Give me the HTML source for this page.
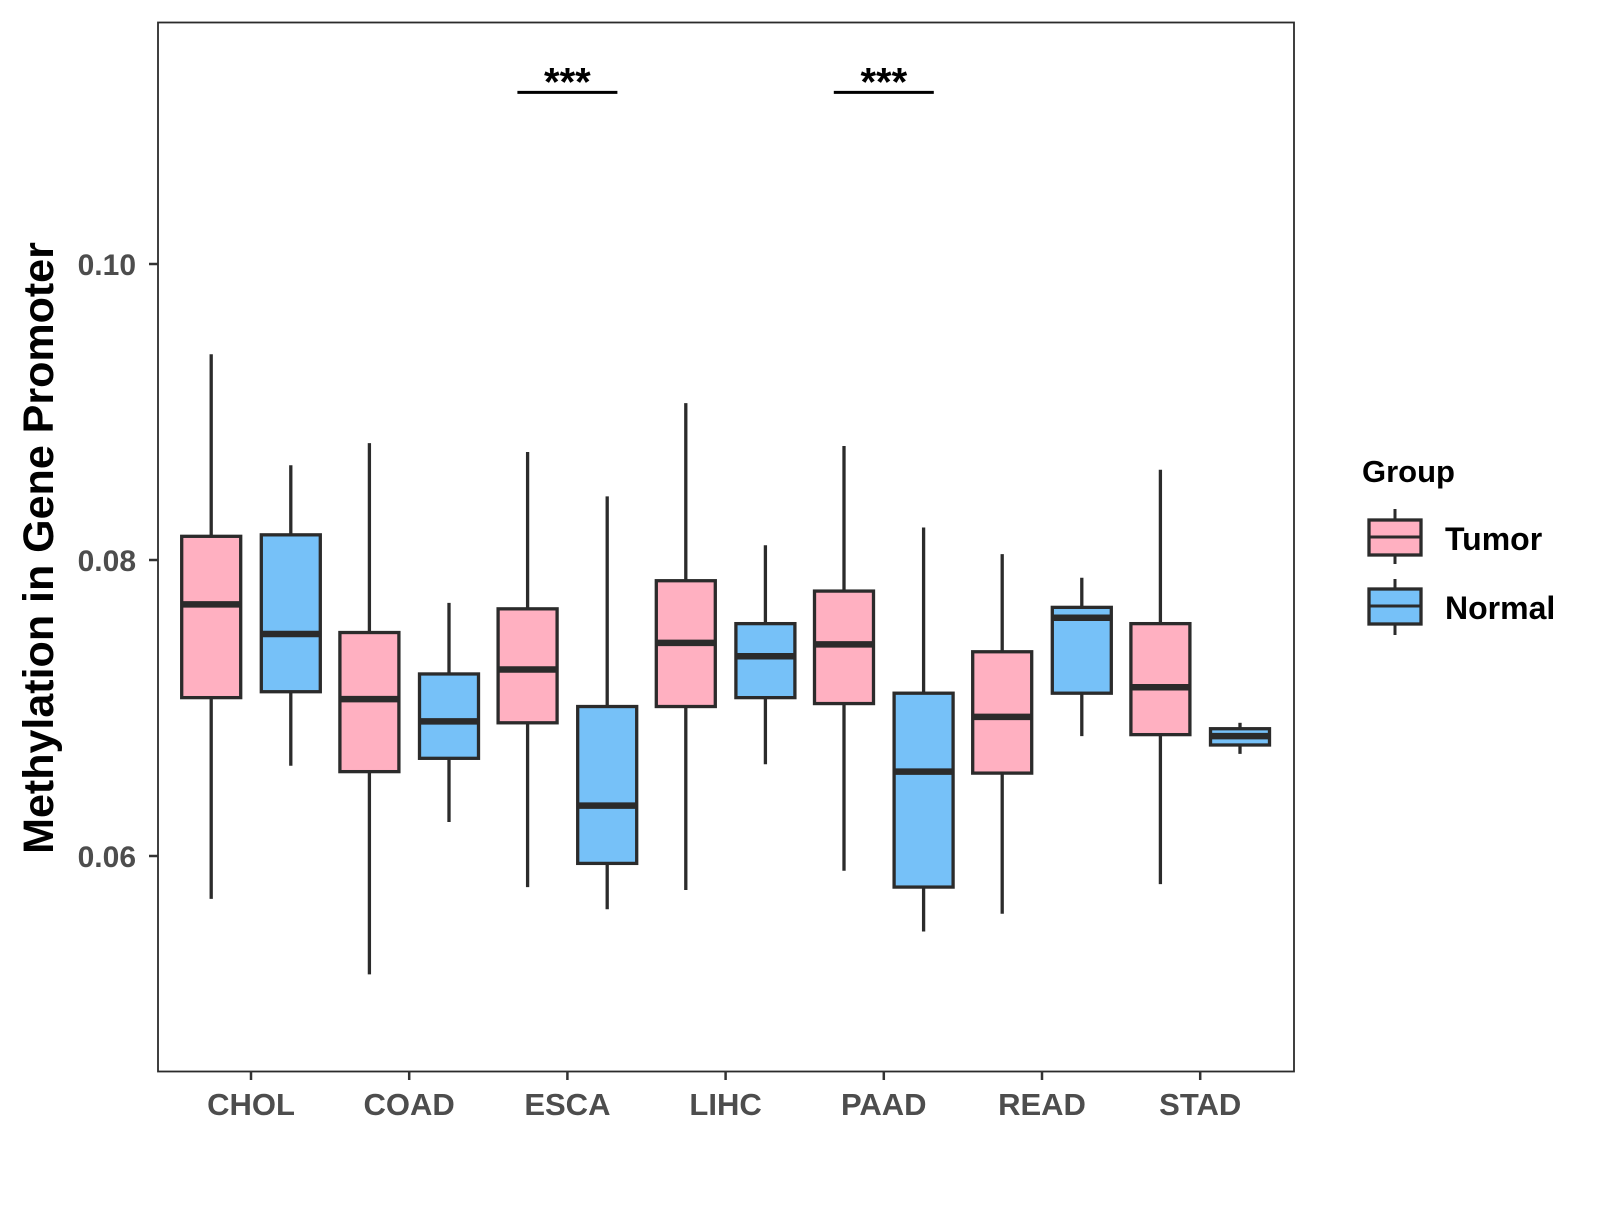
<!DOCTYPE html>
<html><head><meta charset="utf-8"><style>
body{margin:0;background:#fff}
svg text{font-family:"Liberation Sans",sans-serif;font-weight:bold}
</style></head><body>
<svg id="chart" width="1600" height="1200" xmlns="http://www.w3.org/2000/svg">
<rect x="158" y="22.5" width="1136" height="1049" fill="#fff" stroke="#2b2b2b" stroke-width="1.8"/>
<g id="axes"></g>
<g id="boxes"></g>
<text transform="translate(53,548) rotate(-90)" text-anchor="middle" font-size="43" fill="#000">Methylation in Gene Promoter</text>
<g>
<text x="1362" y="482" font-size="31" fill="#000">Group</text>
<line x1="1395" y1="509" x2="1395" y2="564" stroke="#2b2b2b" stroke-width="3"/>
<rect x="1369" y="520" width="52" height="35" fill="#FFB0C1" stroke="#2b2b2b" stroke-width="3.3"/>
<line x1="1369" y1="537" x2="1421" y2="537" stroke="#2b2b2b" stroke-width="3"/>
<text x="1445" y="550" font-size="32" fill="#000">Tumor</text>
<line x1="1395" y1="579" x2="1395" y2="635" stroke="#2b2b2b" stroke-width="3"/>
<rect x="1369" y="589" width="52" height="35" fill="#76C1F8" stroke="#2b2b2b" stroke-width="3.3"/>
<line x1="1369" y1="606" x2="1421" y2="606" stroke="#2b2b2b" stroke-width="3"/>
<text x="1445" y="619" font-size="32" fill="#000">Normal</text>
</g>
</svg>
<script>
const categories=["CHOL","COAD","ESCA","LIHC","PAAD","READ","STAD"];
const yTicks=[0.06,0.08,0.10];
const yTickLabels=["0.06","0.08","0.10"];
// [low, q1, median, q3, high]
const tumor=[[0.0571,0.0707,0.0770,0.0816,0.0939],[0.0520,0.0657,0.0706,0.0751,0.0879],[0.0579,0.0690,0.0726,0.0767,0.0873],[0.0577,0.0701,0.0744,0.0786,0.0906],[0.0590,0.0703,0.0743,0.0779,0.0877],[0.0561,0.0656,0.0694,0.0738,0.0804],[0.0581,0.0682,0.0714,0.0757,0.0861]];
const normal=[[0.0661,0.0711,0.0750,0.0817,0.0864],[0.0623,0.0666,0.0691,0.0723,0.0771],[0.0564,0.0595,0.0634,0.0701,0.0843],[0.0662,0.0707,0.0735,0.0757,0.0810],[0.0549,0.0579,0.0657,0.0710,0.0822],[0.0681,0.0710,0.0761,0.0768,0.0788],[0.0669,0.0675,0.0681,0.0686,0.0690]];
const sigCats=["ESCA","PAAD"];
const sigLabels=["***","***"];
const sigValue=0.1116;

const NS="http://www.w3.org/2000/svg";
const y=v=>560-(v-0.08)*14800;
const x=i=>251+i*158.2;
function mk(parent,tag,attrs){const e=document.createElementNS(NS,tag);for(const k in attrs)e.setAttribute(k,attrs[k]);parent.appendChild(e);return e;}
const axes=document.getElementById('axes'),boxes=document.getElementById('boxes');
yTicks.forEach((t,i)=>{
 const l=mk(axes,'line',{x1:149,x2:158,y1:y(t),y2:y(t),stroke:'#333','stroke-width':2.5});
 
 
 const tx=mk(axes,'text',{x:136,y:y(t)+11,'text-anchor':'end','font-size':30,fill:'#4d4d4d'});
 tx.textContent=yTickLabels[i];
 
 
});
categories.forEach((c,i)=>{
 const l=mk(axes,'line',{x1:x(i),x2:x(i),y1:1071,y2:1080,stroke:'#333','stroke-width':2.5});
 
 
 const tx=mk(axes,'text',{x:x(i),y:1115,'text-anchor':'middle','font-size':31,fill:'#4d4d4d'});
 tx.textContent=c;
 
 
});
function box(d,cx,fill,name){
 const g=mk(boxes,'g',{});
 
 
 const w=59;
 mk(g,'line',{x1:cx,x2:cx,y1:y(d[4]),y2:y(d[0]),stroke:'#2b2b2b','stroke-width':3.3});
 mk(g,'rect',{x:cx-w/2,y:y(d[3]),width:w,height:y(d[1])-y(d[3]),fill:fill,stroke:'#2b2b2b','stroke-width':3.3});
 mk(g,'line',{x1:cx-w/2,x2:cx+w/2,y1:y(d[2]),y2:y(d[2]),stroke:'#2b2b2b','stroke-width':6.5});
}
categories.forEach((c,i)=>{
 box(tumor[i],x(i)-39.8,'#FFB0C1','box-tumor-'+c.toLowerCase());
 box(normal[i],x(i)+39.8,'#76C1F8','box-normal-'+c.toLowerCase());
});
sigCats.forEach((c,j)=>{
 const i=categories.indexOf(c);
 const l=mk(axes,'line',{x1:x(i)-50,x2:x(i)+50,y1:y(sigValue),y2:y(sigValue),stroke:'#000','stroke-width':3});
 
 
 const t=mk(axes,'text',{x:x(i),y:y(sigValue)+3,'text-anchor':'middle','font-size':40,fill:'#000'});
 t.textContent=sigLabels[j];
 
 
});
</script>
</body></html>
